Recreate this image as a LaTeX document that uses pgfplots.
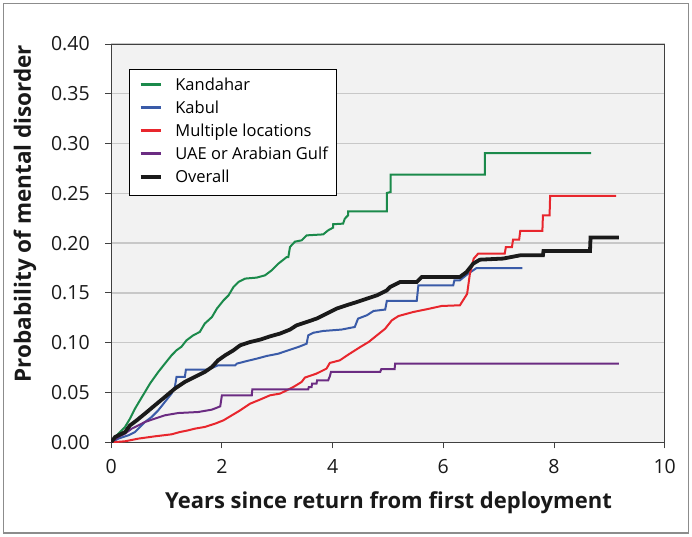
\documentclass[border=0pt]{standalone}
\usepackage{pgfplots}
\pgfplotsset{compat=1.18}
\usepackage{fontspec}
\setmainfont{Open Sans}
\definecolor{kgreen}{HTML}{1B8A4B}
\definecolor{kblue}{HTML}{3A5BA8}
\definecolor{kred}{HTML}{E8262D}
\definecolor{kpurple}{HTML}{6B2C82}
\definecolor{kblack}{HTML}{1A1A1A}
\definecolor{bggray}{HTML}{F2F2F2}
\definecolor{gridgray}{HTML}{C8C8C8}
\definecolor{framegray}{HTML}{8C8C8C}
\begin{document}
\begin{tikzpicture}[x=1pt,y=1pt]
\draw[framegray, line width=1.3pt] (3.5,4) rectangle (688.5,533.5);
\begin{axis}[
  at={(111.2pt,94.7pt)}, anchor=south west,
  width=553.5pt, height=398.3pt, scale only axis,
  xmin=0, xmax=10, ymin=0, ymax=0.4,
  xtick={0,2,4,6,8,10},
  ytick={0,0.05,0.1,0.15,0.2,0.25,0.3,0.35,0.4},
  tick align=outside, tick pos=left,
  major tick length=6pt,
  ymajorgrids,
  grid style={color=gridgray, line width=1.3pt},
  axis background/.style={fill=bggray},
  axis line style={line width=0.9pt, color=black!75},
  tick style={line width=0.9pt, color=black!75},
  /pgf/number format/assume math mode=true,
  ticklabel style={font=\fontsize{19.5}{22}\selectfont, color=black!90},
  y tick label style={/pgf/number format/.cd, fixed, fixed zerofill, precision=2, /tikz/.cd, xshift=-12pt},
  x tick label style={/pgf/number format/.cd, fixed, precision=0, /tikz/.cd, yshift=-8pt},
  legend style={at={(0.0327,0.9365)}, anchor=north west, draw=black, line width=0.9pt, fill=white,
    font=\fontsize{16.5}{20}\selectfont, inner xsep=9pt, inner ysep=8.5pt, row sep=6pt,
    nodes={inner sep=0pt, text height=12.5pt, text depth=4.5pt}},
  legend cell align=left,
  legend image code/.code={\draw[#1] (0pt,2pt) -- (20pt,2pt);},
  every axis legend/.append style={column sep=0pt},
]
\addlegendimage{kgreen, line width=2.6pt}\addlegendentry{\hspace{13pt}Kandahar}
\addlegendimage{kblue, line width=2.6pt}\addlegendentry{\hspace{13pt}Kabul}
\addlegendimage{kred, line width=2.6pt}\addlegendentry{\hspace{13pt}Multiple locations}
\addlegendimage{kpurple, line width=2.6pt}\addlegendentry{\hspace{13pt}UAE or Arabian Gulf\hspace{16pt}}
\addlegendimage{kblack, line width=3.6pt}\addlegendentry{\hspace{13pt}Overall}
% Kandahar
\addplot[kgreen, line width=2pt, forget plot] coordinates {
(0,0) (0.13,0.0087) (0.25,0.0154) (0.34,0.0238) (0.43,0.0338) (0.52,0.0422) (0.61,0.0505) (0.70,0.0589) (0.85,0.0706) (0.97,0.079) (1.09,0.0873) (1.18,0.0924) (1.27,0.096) (1.36,0.1024) (1.48,0.1074) (1.60,0.1108) (1.69,0.1192) (1.82,0.1258) (1.91,0.1343) (2.03,0.1426) (2.12,0.1476) (2.21,0.156) (2.30,0.161) (2.42,0.1644) (2.63,0.1654) (2.78,0.1677) (2.90,0.1727) (3.02,0.1794) (3.17,0.186) (3.20,0.186) (3.23,0.196) (3.26,0.198) (3.32,0.2015) (3.44,0.2028) (3.53,0.2078) (3.83,0.2088) (3.92,0.2129) (4.01,0.2156) (4.01,0.219) (4.19,0.2196) (4.22,0.2246) (4.28,0.228) (4.28,0.232) (4.98,0.232) (4.98,0.2504) (5.05,0.2514) (5.05,0.2689) (6.75,0.2689) (6.75,0.2905) (8.67,0.2905)
};
% Kabul
\addplot[kblue, line width=2pt, forget plot] coordinates {
(0,0) (0.13,0.0037) (0.31,0.007) (0.43,0.0103) (0.52,0.0154) (0.61,0.0204) (0.73,0.0254) (0.85,0.0321) (0.97,0.0405) (1.09,0.0489) (1.15,0.0555) (1.18,0.0656) (1.33,0.0656) (1.35,0.073) (1.75,0.073) (1.93,0.0773) (2.24,0.0773) (2.27,0.079) (2.45,0.0816) (2.63,0.084) (2.81,0.0867) (3.02,0.089) (3.20,0.0924) (3.38,0.0957) (3.53,0.099) (3.56,0.1074) (3.65,0.110) (3.83,0.1118) (4.16,0.1132) (4.40,0.1158) (4.46,0.1242) (4.62,0.1276) (4.74,0.1319) (4.95,0.1333) (4.98,0.1419) (5.52,0.1419) (5.55,0.1577) (6.18,0.1577) (6.20,0.1627) (6.30,0.1627) (6.45,0.1694) (6.60,0.175) (7.43,0.175)
};
% Multiple locations
\addplot[kred, line width=2pt, forget plot] coordinates {
(0,0) (0.25,0.001) (0.49,0.0037) (0.79,0.006) (1.09,0.008) (1.24,0.0103) (1.39,0.012) (1.51,0.0137) (1.69,0.0154) (1.88,0.0188) (2.03,0.0221) (2.15,0.0261) (2.33,0.0321) (2.51,0.0388) (2.69,0.0429) (2.87,0.0472) (3.05,0.0489) (3.17,0.0522) (3.29,0.0555) (3.44,0.0606) (3.50,0.065) (3.71,0.069) (3.89,0.074) (3.95,0.0797) (4.13,0.0823) (4.31,0.089) (4.50,0.0957) (4.65,0.1007) (4.80,0.1074) (4.95,0.1141) (5.07,0.1225) (5.19,0.1268) (5.46,0.1309) (5.70,0.1336) (5.97,0.1369) (6.30,0.1376) (6.43,0.149) (6.48,0.169) (6.55,0.1845) (6.63,0.1895) (7.11,0.1895) (7.13,0.196) (7.24,0.196) (7.26,0.2035) (7.37,0.2035) (7.39,0.2122) (7.79,0.2122) (7.80,0.228) (7.92,0.228) (7.93,0.2474) (9.12,0.2474)
};
% UAE or Arabian Gulf
\addplot[kpurple, line width=2pt, forget plot] coordinates {
(0,0) (0.13,0.0053) (0.25,0.0087) (0.37,0.0137) (0.49,0.017) (0.61,0.0204) (0.79,0.0238) (0.97,0.0271) (1.21,0.0294) (1.57,0.0304) (1.82,0.0328) (1.97,0.0361) (2.00,0.0472) (2.54,0.0472) (2.55,0.0532) (3.56,0.0532) (3.57,0.0555) (3.62,0.0555) (3.63,0.059) (3.71,0.059) (3.72,0.0623) (3.92,0.0623) (3.95,0.0663) (3.97,0.0706) (4.86,0.0706) (4.88,0.0735) (5.12,0.0735) (5.13,0.079) (9.17,0.079)
};
% Overall
\addplot[kblack, line width=3.8pt, forget plot] coordinates {
(0,0) (0.07,0.0053) (0.25,0.0103) (0.34,0.017) (0.46,0.022) (0.61,0.0288) (0.79,0.0372) (0.97,0.0455) (1.15,0.0539) (1.33,0.0606) (1.51,0.0656) (1.69,0.0706) (1.82,0.0756) (1.93,0.0823) (2.06,0.0874) (2.21,0.0924) (2.33,0.0974) (2.51,0.1007) (2.69,0.1031) (2.87,0.1064) (3.05,0.1092) (3.23,0.1132) (3.35,0.1175) (3.53,0.1208) (3.71,0.1242) (3.89,0.1292) (4.07,0.1342) (4.25,0.1376) (4.44,0.1409) (4.62,0.1443) (4.80,0.1476) (4.98,0.1526) (5.04,0.156) (5.22,0.161) (5.52,0.161) (5.61,0.166) (6.30,0.166) (6.42,0.171) (6.54,0.1794) (6.66,0.1834) (7.08,0.1845) (7.39,0.1878) (7.80,0.1878) (7.81,0.1921) (8.65,0.1921) (8.66,0.2056) (9.17,0.2056)
};
\end{axis}
\node[rotate=90, font=\bfseries\fontsize{22.5}{26}\selectfont, color=black!90] at (25,323.5) {Probability of mental disorder};
\node[anchor=base, font=\bfseries\fontsize{22}{26}\selectfont, color=black!90] at (388.5,28.2) {Years since return from first deployment};
\pgfresetboundingbox
\useasboundingbox (0,0) rectangle (692,537);
\end{tikzpicture}
\end{document}
